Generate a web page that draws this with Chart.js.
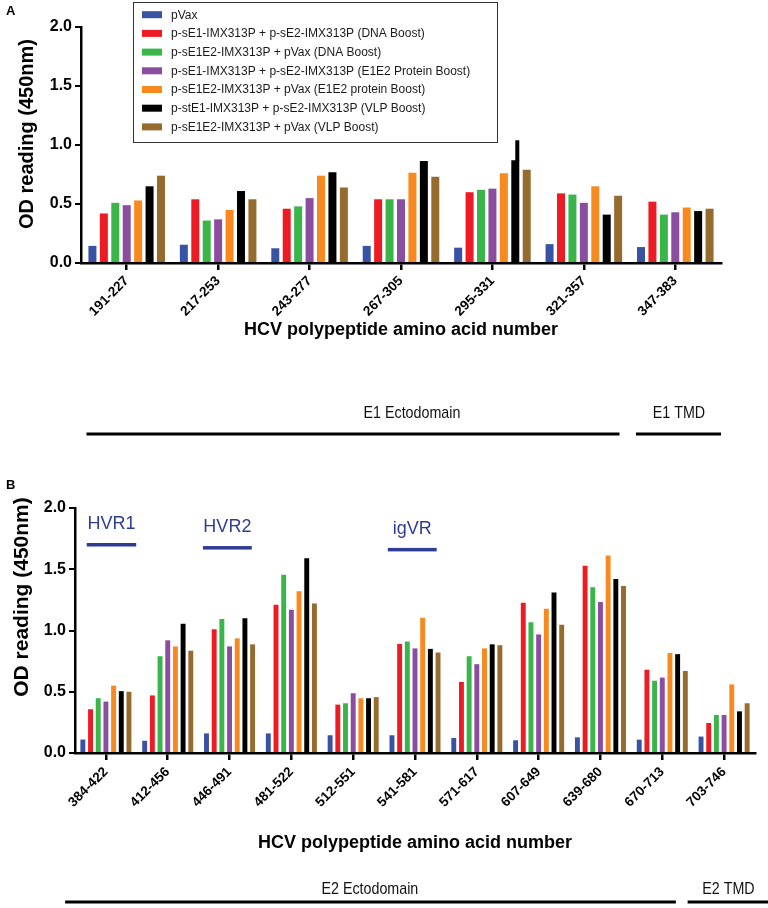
<!DOCTYPE html>
<html><head><meta charset="utf-8">
<script src="https://cdn.jsdelivr.net/npm/chart.js@4.4.1/dist/chart.umd.min.js"></script>
<style>
html,body{margin:0;padding:0;background:#fff;}
#wrap{position:relative;width:768px;height:908px;overflow:hidden;}
canvas{position:absolute;left:0;display:block;}
#cA{top:0}
#cB{top:460px}
</style></head><body>
<div id="wrap"><canvas id="cA" width="768" height="460"></canvas><canvas id="cB" width="768" height="448"></canvas></div>
<script>
// ---------- data ----------
const seriesLabels = [
  'pVax',
  'p-sE1-IMX313P + p-sE2-IMX313P (DNA Boost)',
  'p-sE1E2-IMX313P + pVax (DNA Boost)',
  'p-sE1-IMX313P + p-sE2-IMX313P (E1E2 Protein Boost)',
  'p-sE1E2-IMX313P + pVax (E1E2 protein Boost)',
  'p-stE1-IMX313P + p-sE2-IMX313P (VLP Boost)',
  'p-sE1E2-IMX313P + pVax (VLP Boost)'
];
const seriesColors = ['#3953A4','#ED1C24','#39B54A','#8A4D9F','#F7891F','#000000','#956B2E'];

const categoriesA = ['191-227','217-253','243-277','267-305','295-331','321-357','347-383'];
const pVaxA      = [0.145,0.155,0.125,0.145,0.13,0.16,0.135];
const dnaSepA    = [0.42,0.54,0.46,0.54,0.60,0.59,0.52];
const dnaCoA     = [0.51,0.36,0.48,0.54,0.62,0.58,0.41];
const protSepA   = [0.49,0.37,0.55,0.54,0.63,0.51,0.43];
const protCoA    = [0.53,0.45,0.74,0.765,0.76,0.65,0.47];
const vlpSepA    = [0.65,0.61,0.77,0.865,0.87,0.41,0.44];
const vlpCoA     = [0.74,0.54,0.64,0.73,0.79,0.57,0.46];
const vlpSepSpikeA = [null,null,null,null,1.04,null,null];

const categoriesB = ['384-422','412-456','446-491','481-522','512-551','541-581','571-617','607-649','639-680','670-713','703-746'];
const pVaxB      = [0.11,0.10,0.16,0.16,0.145,0.145,0.123,0.104,0.128,0.109,0.134];
const dnaSepB    = [0.357,0.47,1.01,1.21,0.395,0.89,0.58,1.227,1.528,0.68,0.245];
const dnaCoB     = [0.447,0.79,1.094,1.455,0.406,0.91,0.79,1.067,1.353,0.59,0.31];
const protSepB   = [0.42,0.92,0.87,1.17,0.488,0.854,0.725,0.968,1.233,0.616,0.31];
const protCoB    = [0.55,0.87,0.936,1.32,0.447,1.105,0.854,1.178,1.612,0.816,0.56];
const vlpSepB    = [0.505,1.055,1.10,1.59,0.447,0.85,0.887,1.31,1.42,0.807,0.34];
const vlpCoB     = [0.50,0.835,0.887,1.22,0.456,0.82,0.88,1.047,1.364,0.67,0.406];

const yTicks = [0,0.5,1.0,1.5,2.0];
const xTitle = 'HCV polypeptide amino acid number';
const yTitle = 'OD reading (450nm)';

// domain annotations (category units)
const domainsA = [{label:'E1 Ectodomain', from:-0.44, to:5.39, labelAt:3.12},
                  {label:'E1 TMD', from:5.57, to:6.5, labelAt:6.04}];
const domainsB = [{label:'E2 Ectodomain', from:-0.66, to:9.22, labelAt:4.27},
                  {label:'E2 TMD', from:9.41, to:10.9, labelAt:10.07}];
const regionsB = [{label:'HVR1', from:-0.31, to:0.49, value:1.70},
                  {label:'HVR2', from:1.57, to:2.36, value:1.675},
                  {label:'igVR', from:4.56, to:5.35, value:1.66}];

// ---------- drawing ----------
const FONT = '"Liberation Sans", Arial, Helvetica, sans-serif';
Chart.defaults.font.family = FONT;

const annotPlugin = {
  id: 'annot',
  afterDatasetsDraw(chart, args, o) {
    if (!o.spike) return;
    const ctx = chart.ctx, ys = chart.scales.y;
    const meta = chart.getDatasetMeta(o.spikeDataset);
    ctx.save();
    ctx.fillStyle = seriesColors[o.spikeDataset];
    o.spike.forEach((v, i) => {
      if (v == null) return;
      const el = meta.data[i];
      const right = el.x + el.width / 2;
      const yTop = ys.getPixelForValue(v);
      const yBot = ys.getPixelForValue(chart.data.datasets[o.spikeDataset].data[i]);
      ctx.fillRect(right - 4, yTop, 4, yBot - yTop + 1);
    });
    ctx.restore();
  },
  afterDraw(chart, args, o) {
    const ctx = chart.ctx, xs = chart.scales.x, ys = chart.scales.y, area = chart.chartArea;
    ctx.save();
    ctx.fillStyle = '#000';
    // panel letter
    ctx.font = 'bold 13px ' + FONT;
    ctx.textAlign = 'left'; ctx.textBaseline = 'middle';
    ctx.fillText(o.panel, o.panelX, o.panelY);
    // y title
    ctx.save();
    ctx.translate(o.yTitleX, o.yTitleY);
    ctx.rotate(-Math.PI / 2);
    ctx.font = 'bold ' + o.yTitleSize + 'px ' + FONT;
    ctx.textAlign = 'center';
    ctx.fillText(yTitle, 0, 0);
    ctx.restore();
    // domains
    o.domains.forEach(d => {
      const x1 = xs.getPixelForValue(d.from), x2 = xs.getPixelForValue(d.to);
      ctx.fillRect(x1, area.bottom + o.domainLineDy - 1.5, x2 - x1, 3);
      const xc = xs.getPixelForValue(d.labelAt);
      ctx.save();
      ctx.translate(xc, area.bottom + o.domainTextDy);
      ctx.scale(0.84, 1);
      ctx.font = '17px ' + FONT;
      ctx.textAlign = 'center';
      ctx.fillStyle = '#111';
      ctx.fillText(d.label, 0, 0);
      ctx.restore();
    });
    // regions (HVR etc.)
    (o.regions || []).forEach(r => {
      const x1 = xs.getPixelForValue(r.from), x2 = xs.getPixelForValue(r.to);
      const y = ys.getPixelForValue(r.value);
      ctx.fillStyle = '#2E3C91';
      ctx.fillRect(x1, y - 1.75, x2 - x1, 3.5);
      ctx.font = '18px ' + FONT;
      ctx.textAlign = 'center';
      ctx.fillText(r.label, (x1 + x2) / 2, y - 21);
    });
    // legend
    if (o.legend) {
      const L = o.legend;
      ctx.strokeStyle = '#333'; ctx.lineWidth = 1;
      ctx.strokeRect(L.left + 0.5, L.top + 0.5, L.width, L.height);
      ctx.font = '12px ' + FONT;
      ctx.textAlign = 'left'; ctx.textBaseline = 'middle';
      chart.data.datasets.forEach((ds, i) => {
        const yy = L.firstRow + i * L.rowPitch;
        ctx.fillStyle = ds.backgroundColor;
        ctx.fillRect(L.left + 9, yy - 3.5, 20, 7);
        ctx.fillStyle = '#1a1a1a';
        ctx.fillText(ds.label, L.left + 38, yy + 0.5);
      });
    }
    ctx.restore();
  }
};

function makeChart(id, cats, series, c) {
  return new Chart(document.getElementById(id), {
    type: 'bar',
    data: {
      labels: cats,
      datasets: series.map((d, i) => ({
        label: seriesLabels[i], data: d, backgroundColor: seriesColors[i],
        borderWidth: 0, categoryPercentage: c.catPct, barPercentage: c.barPct
      }))
    },
    options: {
      responsive: false, animation: false, devicePixelRatio: 1,
      layout: { padding: { top: c.padTop, left: 0, right: c.padRight, bottom: c.padBottom } },
      plugins: { legend: { display: false }, tooltip: { enabled: false }, annot: c.annot },
      scales: {
        x: {
          grid: { display: true, drawOnChartArea: false, drawTicks: true, tickLength: 7, offset: false, color: '#000', lineWidth: 2.5 },
          border: { display: true, color: '#000', width: 2.5 },
          ticks: { font: { size: c.xTickSize, weight: 'bold' }, color: '#000', minRotation: 45, maxRotation: 45, autoSkip: false, padding: c.xTickPad },
          title: { display: true, text: xTitle, font: { size: 18, weight: 'bold' }, color: '#000', padding: 0 },
          afterFit: s => { s.height = c.xH; }
        },
        y: {
          min: 0, max: 2,
          afterBuildTicks: s => { s.ticks = yTicks.map(v => ({ value: v })); },
          ticks: { callback: v => Number(v).toFixed(1), font: { size: 16, weight: 'bold' }, color: '#000', padding: 3 },
          grid: { display: true, drawOnChartArea: false, tickLength: 6, color: '#000', lineWidth: 2 },
          border: { display: true, color: '#000', width: 2.5 },
          afterFit: s => { s.width = c.yW; }
        }
      }
    },
    plugins: [annotPlugin]
  });
}

makeChart('cA', categoriesA, [pVaxA, dnaSepA, dnaCoA, protSepA, protCoA, vlpSepA, vlpCoA], {
  catPct: 0.875, barPct: 0.7, padTop: 27, padRight: 47, padBottom: 119, xH: 78, yW: 81, xTickSize: 13.5, xTickPad: 3,
  annot: {
    panel: 'A', panelX: 6, panelY: 11, yTitleX: 27, yTitleY: 134, yTitleSize: 20,
    spike: vlpSepSpikeA, spikeDataset: 5,
    domains: domainsA, domainLineDy: 171, domainTextDy: 150,
    legend: { left: 133, top: 2, width: 364, height: 140, firstRow: 14.7, rowPitch: 18.7 }
  }
});

makeChart('cB', categoriesB, [pVaxB, dnaSepB, dnaCoB, protSepB, protCoB, vlpSepB, vlpCoB], {
  catPct: 0.87, barPct: 0.64, padTop: 48, padRight: 13, padBottom: 54, xH: 101, yW: 75, xTickSize: 13.5, xTickPad: 4,
  annot: {
    panel: 'B', panelX: 6, panelY: 25, yTitleX: 22, yTitleY: 137, yTitleSize: 21,
    domains: domainsB, domainLineDy: 149, domainTextDy: 136,
    regions: regionsB
  }
});
</script>
</body></html>
